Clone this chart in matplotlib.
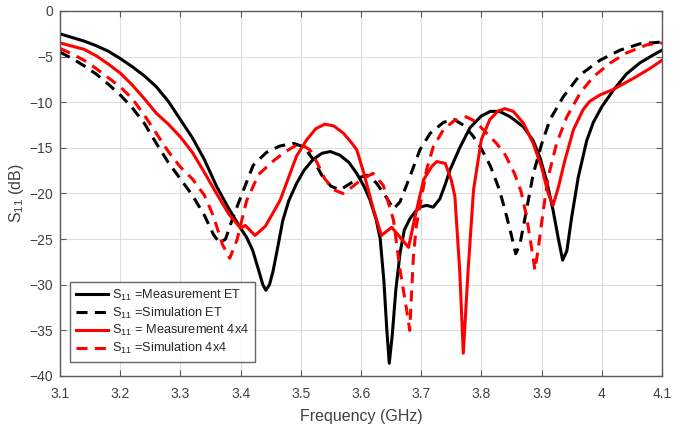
import matplotlib
matplotlib.use("Agg")
import matplotlib.pyplot as plt

# Measured and simulated S11 (dB) versus frequency (GHz)
meas_et_f = [3.100, 3.120, 3.140, 3.160, 3.180, 3.200, 3.220, 3.240, 3.260, 3.280,
             3.300, 3.320, 3.340, 3.360, 3.380, 3.400, 3.410, 3.420, 3.430, 3.437,
             3.442, 3.448, 3.454, 3.462, 3.470, 3.480, 3.493, 3.505, 3.520, 3.535,
             3.549, 3.565, 3.580, 3.593, 3.605, 3.615, 3.625, 3.632, 3.638, 3.643,
             3.647, 3.652, 3.658, 3.665, 3.672, 3.681, 3.690, 3.698, 3.709, 3.720,
             3.731, 3.740, 3.748, 3.764, 3.781, 3.800, 3.815, 3.830, 3.848, 3.870,
             3.886, 3.897, 3.908, 3.919, 3.928, 3.935, 3.942, 3.950, 3.961, 3.975,
             3.986, 4.000, 4.019, 4.041, 4.063, 4.086, 4.100]
meas_et_db = [-2.5, -2.9, -3.3, -3.8, -4.4, -5.2, -6.1, -7.1, -8.3, -9.9,
              -11.9, -13.9, -16.3, -19.2, -21.6, -23.8, -24.8, -26.2, -28.4, -30.0,
              -30.6, -30.0, -28.5, -25.8, -23.0, -20.8, -18.9, -17.5, -16.3, -15.6,
              -15.4, -15.8, -16.6, -17.8, -19.2, -20.7, -22.8, -25.0, -29.5, -35.0,
              -38.6, -35.5, -30.5, -26.5, -24.0, -22.8, -22.0, -21.5, -21.3, -21.5,
              -20.6, -19.0, -17.4, -15.0, -12.8, -11.5, -11.0, -11.0, -11.6, -12.7,
              -14.2, -16.0, -18.5, -21.8, -25.0, -27.3, -26.3, -22.6, -18.2, -14.2,
              -12.2, -10.5, -8.7, -6.9, -5.7, -4.8, -4.3]

sim_et_f = [3.100, 3.120, 3.140, 3.160, 3.180, 3.200, 3.220, 3.240, 3.260, 3.280,
            3.300, 3.320, 3.340, 3.355, 3.365, 3.375, 3.388, 3.405, 3.421, 3.443,
            3.465, 3.488, 3.505, 3.520, 3.535, 3.550, 3.565, 3.580, 3.595, 3.610,
            3.625, 3.640, 3.654, 3.665, 3.681, 3.698, 3.715, 3.737, 3.755, 3.770,
            3.785, 3.800, 3.815, 3.830, 3.840, 3.850, 3.857, 3.864, 3.875, 3.886,
            3.900, 3.914, 3.936, 3.964, 3.997, 4.030, 4.063, 4.100]
sim_et_db = [-4.5, -5.2, -6.0, -6.9, -8.0, -9.2, -10.6, -12.3, -14.5, -16.6,
             -18.4, -20.2, -22.4, -24.5, -25.4, -25.0, -22.5, -19.6, -16.9, -15.5,
             -14.8, -14.5, -14.9, -16.2, -18.0, -19.2, -19.6, -19.0, -18.3, -18.0,
             -18.8, -20.2, -21.7, -20.9, -18.2, -15.2, -13.4, -12.2, -11.9, -12.5,
             -13.6, -15.1, -17.0, -19.6, -22.0, -24.6, -26.6, -25.6, -21.8, -17.9,
             -14.6, -11.9, -9.4, -7.0, -5.4, -4.3, -3.6, -3.4]

meas_4x4_f = [3.100, 3.120, 3.140, 3.160, 3.180, 3.200, 3.220, 3.240, 3.260, 3.280,
              3.300, 3.320, 3.340, 3.360, 3.380, 3.400, 3.408, 3.424, 3.441, 3.455,
              3.466, 3.480, 3.493, 3.510, 3.525, 3.540, 3.555, 3.571, 3.585, 3.593,
              3.604, 3.621, 3.634, 3.651, 3.679, 3.690, 3.704, 3.718, 3.726, 3.740,
              3.750, 3.756, 3.764, 3.770, 3.778, 3.787, 3.800, 3.814, 3.827, 3.839,
              3.853, 3.870, 3.886, 3.900, 3.911, 3.919, 3.928, 3.939, 3.953, 3.969,
              3.980, 3.997, 4.019, 4.052, 4.080, 4.100]
meas_4x4_db = [-3.5, -3.85, -4.2, -4.9, -5.8, -6.8, -8.1, -9.6, -11.2, -12.4,
               -13.8, -15.5, -17.7, -20.0, -22.2, -23.8, -23.5, -24.6, -23.6, -22.0,
               -20.7, -18.2, -15.9, -14.1, -12.9, -12.4, -12.6, -13.4, -14.5, -15.2,
               -17.6, -21.8, -24.6, -23.7, -25.9, -22.5, -18.5, -17.0, -16.5, -16.7,
               -18.5, -20.3, -28.4, -37.5, -28.4, -19.6, -14.1, -11.9, -11.0, -10.7,
               -11.0, -12.3, -14.5, -17.1, -20.0, -21.3, -19.3, -16.3, -13.0, -10.8,
               -9.9, -9.2, -8.6, -7.4, -6.3, -5.4]

sim_4x4_f = [3.100, 3.120, 3.140, 3.160, 3.180, 3.200, 3.220, 3.240, 3.260, 3.280,
             3.300, 3.320, 3.340, 3.355, 3.370, 3.382, 3.394, 3.410, 3.430, 3.455,
             3.475, 3.490, 3.500, 3.515, 3.527, 3.540, 3.555, 3.570, 3.585, 3.600,
             3.620, 3.637, 3.654, 3.665, 3.676, 3.681, 3.687, 3.692, 3.701, 3.709,
             3.720, 3.737, 3.755, 3.775, 3.790, 3.803, 3.825, 3.840, 3.855, 3.866,
             3.875, 3.883, 3.889, 3.895, 3.903, 3.911, 3.925, 3.942, 3.964, 3.986,
             4.014, 4.041, 4.075, 4.100]
sim_4x4_db = [-4.1, -4.7, -5.4, -6.3, -7.3, -8.3, -9.6, -11.4, -13.4, -15.4,
              -17.1, -18.4, -20.2, -22.5, -25.6, -27.1, -25.1, -20.8, -17.9, -16.4,
              -15.4, -14.8, -14.6, -15.2, -16.6, -18.4, -19.6, -20.0, -19.3, -18.5,
              -17.8, -19.1, -22.9, -28.4, -32.8, -35.0, -27.0, -23.5, -20.3, -17.4,
              -14.9, -13.0, -12.0, -11.6, -12.1, -13.0, -14.5, -15.8, -17.8, -19.8,
              -22.5, -25.8, -28.4, -25.8, -21.8, -18.2, -14.5, -11.6, -9.0, -7.2,
              -5.7, -4.6, -3.7, -3.5]

x_ticks = [3.1, 3.2, 3.3, 3.4, 3.5, 3.6, 3.7, 3.8, 3.9, 4.0, 4.1]
x_tick_labels = ["3.1", "3.2", "3.3", "3.4", "3.5", "3.6", "3.7", "3.8", "3.9", "4", "4.1"]
y_ticks = [0, -5, -10, -15, -20, -25, -30, -35, -40]

plt.rcParams["font.family"] = ["Liberation Sans", "DejaVu Sans"]
plt.rcParams["mathtext.fontset"] = "custom"
plt.rcParams["mathtext.rm"] = "Liberation Sans"
plt.rcParams["mathtext.it"] = "Liberation Sans"

fig = plt.figure(figsize=(6.83, 4.28), dpi=100)
ax = fig.add_axes([0.0878, 0.1215, 0.8814, 0.8528])

lw = 2.2
dash = (3.6, 2.4)
ax.plot(meas_et_f, meas_et_db, color="black", lw=lw,
        label=r"S$_{\mathregular{11}}$ =Measurement ET")
ax.plot(sim_et_f, sim_et_db, color="black", lw=lw, linestyle=(0, dash),
        label=r"S$_{\mathregular{11}}$ =Simulation ET")
ax.plot(meas_4x4_f, meas_4x4_db, color="#ff0000", lw=lw,
        label=r"S$_{\mathregular{11}}$ = Measurement 4x4")
ax.plot(sim_4x4_f, sim_4x4_db, color="#ff0000", lw=lw, linestyle=(0, dash),
        label=r"S$_{\mathregular{11}}$ =Simulation 4x4")

ax.set_xlim(3.1, 4.1)
ax.set_ylim(-40, 0)
ax.set_xticks(x_ticks)
ax.set_xticklabels(x_tick_labels)
ax.set_yticks(y_ticks)

ax.grid(True, color="#dcdcdc", linewidth=0.8)
ax.set_axisbelow(True)

tick_col = "#404040"
for sp in ax.spines.values():
    sp.set_color("#5a5a5a")
    sp.set_linewidth(1.0)
ax.tick_params(direction="in", top=True, right=True, length=4,
               width=0.8, color="#5a5a5a", labelcolor=tick_col, labelsize=10)
ax.tick_params(axis="x", pad=8)
ax.tick_params(axis="y", pad=5)

ax.set_xlabel("Frequency (GHz)", fontsize=11.5, color=tick_col, labelpad=6)
ax.set_ylabel(r"S$_{\mathregular{11}}$ (dB)", fontsize=11.5, color=tick_col)
ax.yaxis.set_label_coords(-0.056, 0.5)

leg = ax.legend(loc="lower left", bbox_to_anchor=(0.017, 0.038), fontsize=9.2,
                frameon=True, fancybox=False, handlelength=2.5,
                handletextpad=0.35, borderpad=0.45, labelspacing=0.22,
                borderaxespad=0)
leg.get_frame().set_edgecolor("#404040")
leg.get_frame().set_linewidth(1.0)
for t in leg.get_texts():
    t.set_color("#262626")

fig.savefig("out.png", dpi=100)
